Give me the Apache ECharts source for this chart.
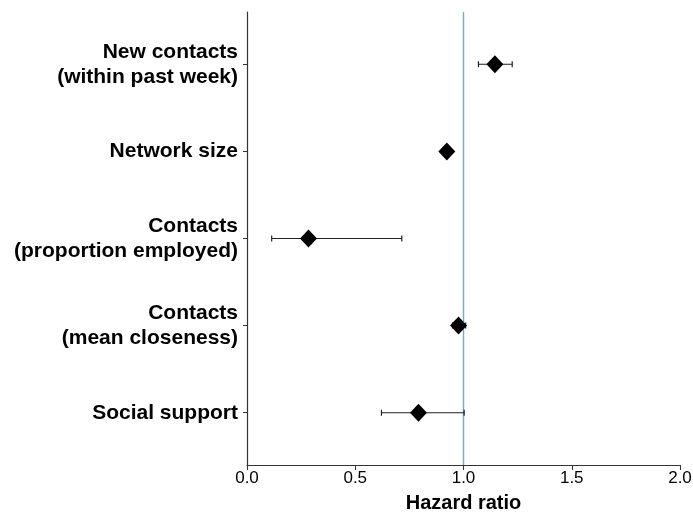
<!DOCTYPE html>
<html>
<head>
<meta charset="utf-8">
<script src="https://cdn.jsdelivr.net/npm/echarts@6/dist/echarts.min.js"></script>
<style>
  html, body { margin: 0; padding: 0; background: #fff; }
  #chart { width: 693px; height: 513px; }
</style>
</head>
<body>
<div id="chart"></div>
<script>
// Predictors, listed top to bottom
const predictors = [
  'New contacts\n(within past week)',
  'Network size',
  'Contacts\n(proportion employed)',
  'Contacts\n(mean closeness)',
  'Social support'
];
// Hazard ratio estimates and 95% confidence bounds
const hazardRatio = [1.145, 0.923, 0.284, 0.977, 0.792];
const ciLower     = [1.069, 0.915, 0.114, 0.950, 0.621];
const ciUpper     = [1.225, 0.930, 0.715, 1.010, 1.003];
// Horizontal axis ticks
const xTicks = [0, 0.5, 1.0, 1.5, 2.0];
const referenceRatio = 1.0;

const rowPos = predictors.map((_, i) => i + 1);
const pointData = hazardRatio.map((v, i) => [v, rowPos[i]]);
const ciData = hazardRatio.map((_, i) => [ciLower[i], ciUpper[i], rowPos[i]]);

const chart = echarts.init(document.getElementById('chart'), null, { renderer: 'canvas' });

const fontFamily = '"Liberation Sans", Arial, Helvetica, sans-serif';

chart.setOption({
  animation: false,
  backgroundColor: '#ffffff',
  grid: { left: 247, right: 13, top: 12, bottom: 48, containLabel: false, outerBoundsMode: 'none' },
  xAxis: {
    type: 'value',
    min: xTicks[0],
    max: xTicks[xTicks.length - 1],
    interval: 0.5,
    name: 'Hazard ratio',
    nameLocation: 'middle',
    nameGap: 28,
    nameTextStyle: { fontFamily, fontSize: 20, fontWeight: 'bold', color: '#000' },
    axisLine: { show: true, lineStyle: { color: '#333', width: 1.2 } },
    axisTick: { show: true, length: 5, lineStyle: { color: '#333' } },
    axisLabel: {
      fontFamily, fontSize: 17, color: '#000', margin: 5,
      formatter: v => v.toFixed(1)
    },
    splitLine: { show: false }
  },
  yAxis: {
    type: 'value',
    inverse: true,
    min: 0.4,
    max: predictors.length + 0.6,
    axisLine: { show: true, lineStyle: { color: '#333', width: 1.2 } },
    axisTick: { show: true, length: 4, customValues: rowPos, lineStyle: { color: '#333' } },
    axisLabel: {
      customValues: rowPos,
      fontFamily, fontSize: 21, fontWeight: 'bold', color: '#000',
      lineHeight: 25, align: 'right', margin: 9,
      formatter: v => predictors[Math.round(v) - 1]
    },
    splitLine: { show: false }
  },
  series: [
    {
      type: 'custom',
      name: 'ci',
      renderItem: (params, api) => {
        const lo = api.coord([api.value(0), api.value(2)]);
        const hi = api.coord([api.value(1), api.value(2)]);
        const cap = 3;
        const style = { stroke: '#222', lineWidth: 1.2 };
        return {
          type: 'group',
          children: [
            { type: 'line', shape: { x1: lo[0], y1: lo[1], x2: hi[0], y2: hi[1] }, style },
            { type: 'line', shape: { x1: lo[0], y1: lo[1] - cap, x2: lo[0], y2: lo[1] + cap }, style },
            { type: 'line', shape: { x1: hi[0], y1: hi[1] - cap, x2: hi[0], y2: hi[1] + cap }, style }
          ]
        };
      },
      encode: { x: [0, 1], y: 2 },
      data: ciData,
      z: 2
    },
    {
      type: 'scatter',
      name: 'hr',
      symbol: 'diamond',
      symbolSize: [17, 18],
      itemStyle: { color: '#000', opacity: 1 },
      data: pointData,
      z: 4,
      markLine: {
        silent: true,
        symbol: 'none',
        label: { show: false },
        lineStyle: { color: '#5eb0ec', width: 1.4, type: 'solid', opacity: 1 },
        data: [{ xAxis: referenceRatio }],
        z: 1
      }
    }
  ]
});
</script>
</body>
</html>
